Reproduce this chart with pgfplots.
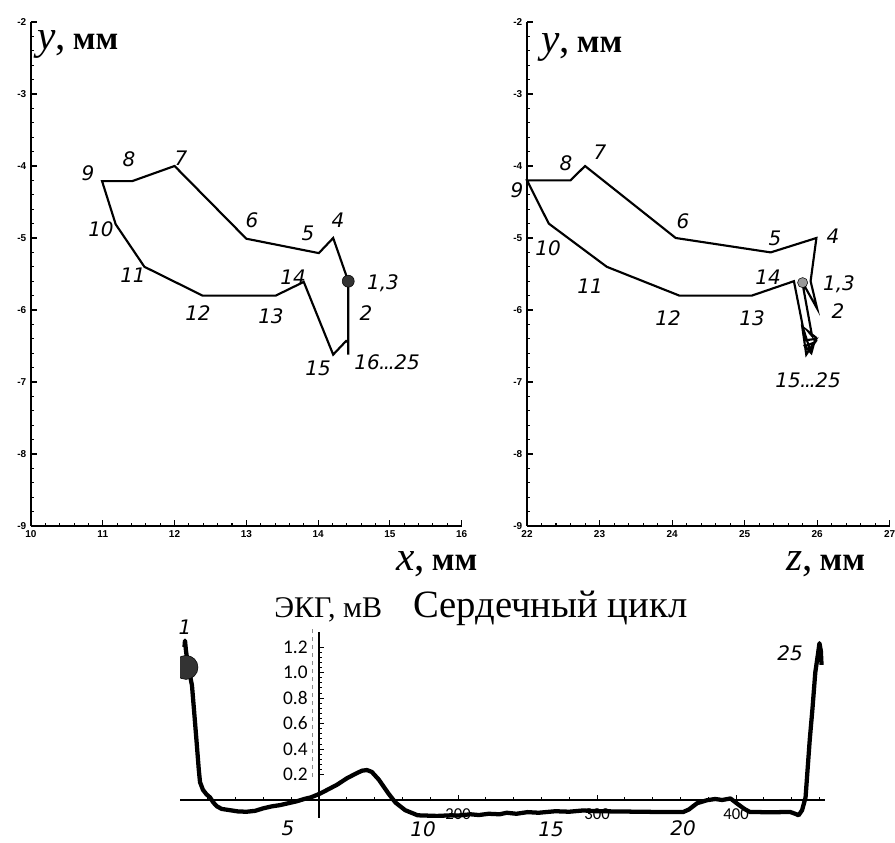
\documentclass[border=0pt]{standalone}
\usepackage{fontspec}
\setmainfont{Liberation Serif}
\setsansfont{Liberation Sans}
\newfontfamily\lab{DejaVu Sans}
\newfontfamily\calf{Carlito}
\usepackage{pgfplots}
\usepackage{pgfplotstable}
\pgfplotsset{compat=1.18}

\pgfplotstableread{
x y
14.42 -5.60
14.42 -6.00
14.42 -5.60
14.21 -5.00
14.01 -5.21
13.00 -5.01
12.00 -4.00
11.41 -4.21
10.99 -4.21
11.18 -4.81
11.58 -5.40
12.39 -5.80
13.41 -5.80
13.80 -5.61
14.21 -6.62
14.39 -6.43
14.42 -6.45
14.42 -6.62
14.42 -6.40
14.42 -5.60
}\xy

\pgfplotstableread{
z y
25.80 -5.62
26.00 -5.98
25.91 -5.60
25.99 -5.00
25.36 -5.20
24.05 -5.00
22.80 -4.00
22.60 -4.20
22.00 -4.20
22.30 -4.80
23.10 -5.40
24.10 -5.80
25.10 -5.80
25.68 -5.60
25.84 -6.42
25.99 -6.40
25.85 -6.62
25.79 -6.20
25.90 -6.55
25.97 -6.45
25.83 -6.50
25.92 -6.60
25.98 -6.38
25.88 -6.30
25.93 -6.36
25.80 -5.64
}\zy

\pgfplotstableread{
t v
3.2 1.20
3.6 1.25
4.3 1.17
6.0 1.04
8.6 0.90
10.5 0.65
12.2 0.42
13.5 0.24
14.4 0.14
16.5 0.08
19 0.045
21.6 0.02
24 -0.02
26.6 -0.05
30 -0.07
36 -0.08
42 -0.09
48 -0.092
54 -0.085
60 -0.065
66 -0.05
72 -0.04
78 -0.025
84 -0.01
90 0.01
94 0.02
100.7 0.05
106 0.08
113 0.12
120 0.17
127 0.21
131 0.23
134.5 0.235
138 0.22
143 0.16
150 0.05
155 -0.02
162 -0.08
171 -0.12
185 -0.125
195 -0.12
200 -0.122
209 -0.112
215 -0.118
222 -0.108
230 -0.112
235 -0.10
242 -0.108
250 -0.095
258 -0.10
270 -0.088
280 -0.092
290 -0.082
300 -0.088
316 -0.09
330 -0.092
345 -0.094
362 -0.094
366 -0.075
372 -0.025
379 -0.002
385 0.008
390 0.0
396 0.012
401 -0.03
406 -0.07
410 -0.094
425 -0.096
439 -0.094
443 -0.11
445 -0.12
447.5 -0.08
450 0.02
453 0.47
455 0.72
457 1.0
459 1.15
460 1.23
461 1.17
461.5 1.06
}\ecg

\pgfplotsset{upper/.style={
  scale only axis, axis x line=bottom, axis y line=left,
  axis line style={-, line width=1.1pt},
  tick align=inside, major tick length=4.5pt, minor tick length=2.2pt,
  every tick/.style={black, line width=0.8pt},
  minor x tick num=4, minor y tick num=4,
  xtick distance=1, ytick distance=1,
  ymin=-9, ymax=-2, height=378pt,
  tick label style={font=\fontsize{7.5}{8}\sffamily\bfseries},
  /pgf/number format/assume math mode=true,
  clip=false}}

\newcommand\nl{\lab\itshape\fontsize{15}{16}\selectfont}
\newcommand\dd{\kern-0.5pt.\kern-1.2pt.\kern-1.2pt.\kern-0.5pt}

\begin{document}
\begin{tikzpicture}
\path[use as bounding box] (0,0) rectangle (671.25pt,631.5pt);

% left panel x-y
\begin{axis}[upper, at={(23.25pt,237pt)}, anchor=south west,
  xmin=10, xmax=16, width=323pt]
\addplot[black, line width=1.6pt, line join=miter] table[x=x,y=y] {\xy};
\addplot[only marks, mark=*, mark size=4.5pt, draw=none, fill=black!80] coordinates {(14.42,-5.6)};
\end{axis}

% right panel z-y
\begin{axis}[upper, at={(395.25pt,237pt)}, anchor=south west,
  xmin=22, xmax=27, width=272pt]
\addplot[black, line width=1.6pt, line join=miter] table[x=z,y=y] {\zy};
\addplot[only marks, mark=*, mark size=3.8pt, draw=none, fill=black!40] coordinates {(25.80,-5.62)};
\end{axis}

% ECG panel
\begin{axis}[scale only axis, at={(135pt,18.11pt)}, anchor=south west,
  width=483.75pt, height=139.6pt,
  xmin=-100, xmax=364, ymin=-0.14, ymax=1.32,
  axis lines=middle, axis line style={-, line width=1pt},
  tick align=inside, major tick length=4pt, minor tick length=2.5pt,
  every tick/.style={black, line width=0.6pt},
  xtick={100,200,300}, xticklabels={200,300,400},
  minor xtick={-80,-60,...,360},
  ytick={0.2,0.4,0.6,0.8,1.0,1.2}, yticklabels={0.2,0.4,0.6,0.8,1.0,1.2},
  minor y tick num=4,
  xticklabel style={font=\calf\fontsize{12.5}{13}\selectfont, yshift=-3pt},
  yticklabel style={font=\calf\fontsize{14.5}{15}\selectfont, xshift=-5pt},
  clip mode=individual, clip marker paths=true]
\draw[black!45, dashed, line width=0.5pt] (axis cs:-5,0.18) -- (axis cs:-5,1.35);
\addplot[black, line width=3.2pt, line join=round] table[x expr=\thisrow{t}-100, y=v] {\ecg};
\addplot[only marks, mark=*, mark size=9pt, draw=none, fill=black!80] coordinates {(-95.7,1.04)};
\end{axis}

\begin{scope}[x=0.75pt, y=-0.75pt, shift={(0,631.5pt)}]
% axis labels
\node[anchor=base west, inner sep=0] at (37,50) {\fontsize{31}{31}\selectfont\itshape y\upshape,\,\fontsize{25}{25}\selectfont\bfseries мм};
\node[anchor=base west, inner sep=0] at (541,53) {\fontsize{31}{31}\selectfont\itshape y\upshape,\,\fontsize{25}{25}\selectfont\bfseries мм};
\node[anchor=base west, inner sep=0] at (396,571) {\fontsize{31}{31}\selectfont\itshape x\upshape,\,\fontsize{25}{25}\selectfont\bfseries мм};
\node[anchor=base west, inner sep=0] at (786,571) {\fontsize{31}{31}\selectfont\itshape z\upshape,\,\fontsize{25}{25}\selectfont\bfseries мм};
\node[anchor=base west, inner sep=0] at (274,618) {\fontsize{22.5}{22}\selectfont ЭКГ, мВ};
\node[anchor=base west, inner sep=0] at (413,618) {\fontsize{29}{29}\selectfont Сердечный цикл};
% left panel point labels
\node at (88,173) {\nl 9};
\node at (129,159) {\nl 8};
\node at (181,158) {\nl 7};
\node at (101,229) {\nl 10};
\node at (252,220) {\nl 6};
\node at (308,233) {\nl 5};
\node at (338,220) {\nl 4};
\node at (133,275) {\nl 11};
\node at (293,277) {\nl 14};
\node at (383,283) {\nl 1,3};
\node at (198,313) {\nl 12};
\node at (271,316) {\nl 13};
\node at (366,313) {\nl 2};
\node at (318,368) {\nl 15};
\node at (387,362) {\nl 16\dd25};
% right panel point labels
\node at (600,152) {\nl 7};
\node at (566,163) {\nl 8};
\node at (517,190) {\nl 9};
\node at (683,221) {\nl 6};
\node at (548,248) {\nl 10};
\node at (775,238) {\nl 5};
\node at (833,236) {\nl 4};
\node at (768,277) {\nl 14};
\node at (839,284) {\nl 1,3};
\node at (590,286) {\nl 11};
\node at (838,311) {\nl 2};
\node at (668,318) {\nl 12};
\node at (752,318) {\nl 13};
\node at (808,380) {\nl 15\dd25};
% ECG labels
\node at (185,627) {\nl 1};
\node at (288,828) {\nl 5};
\node at (423,829) {\nl 10};
\node at (551,829) {\nl 15};
\node at (683,828) {\nl 20};
\node at (790,653) {\nl 25};
\end{scope}
\end{tikzpicture}
\end{document}
